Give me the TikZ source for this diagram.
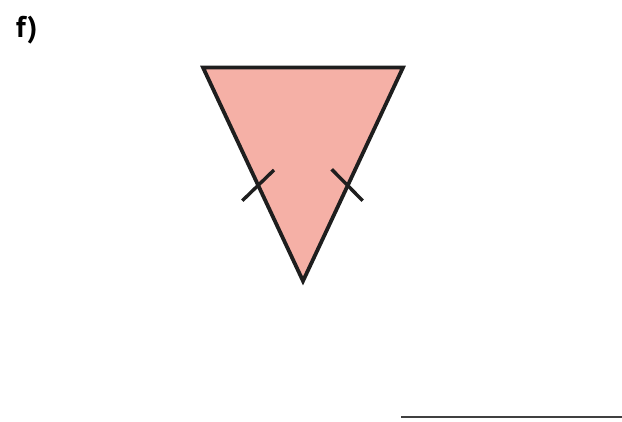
\documentclass[tikz,border=0pt]{standalone}
\usepackage{fontspec}
\setmainfont{PT Sans}
\definecolor{salmon}{RGB}{245,176,166}
\definecolor{inkline}{RGB}{30,30,30}
\tikzset{
    tri/.style={draw=inkline,line width=3.8pt,fill=salmon,miter limit=10},
    tick/.style={draw=inkline,line width=3.4pt},
    answer/.style={draw=inkline!85,line width=1.7pt},
}
\begin{document}
\begin{tikzpicture}[x=1pt,y=1pt]
\useasboundingbox (0,0) rectangle (622,421);
% label
\node[anchor=base west,inner sep=0pt,font=\bfseries\fontsize{30}{32}\selectfont] (lab) at (16,383) {f)};
% triangle
\coordinate (tl) at (203,353.5);
\coordinate (tr) at (403,353.5);
\coordinate (bt) at (303,140);
\draw[tri] (tl) -- (tr) -- (bt) -- cycle;
% equal-side marks
\coordinate (l1) at (242.3,220.3);
\coordinate (l2) at (274,251);
\coordinate (r1) at (331.7,251.7);
\coordinate (r2) at (362.7,220.3);
\draw[tick] (l1) -- (l2);
\draw[tick] (r1) -- (r2);
% answer line
\coordinate (a1) at (401,4.3);
\coordinate (a2) at (622,4.3);
\draw[answer] (a1) -- (a2);
\end{tikzpicture}
\end{document}
